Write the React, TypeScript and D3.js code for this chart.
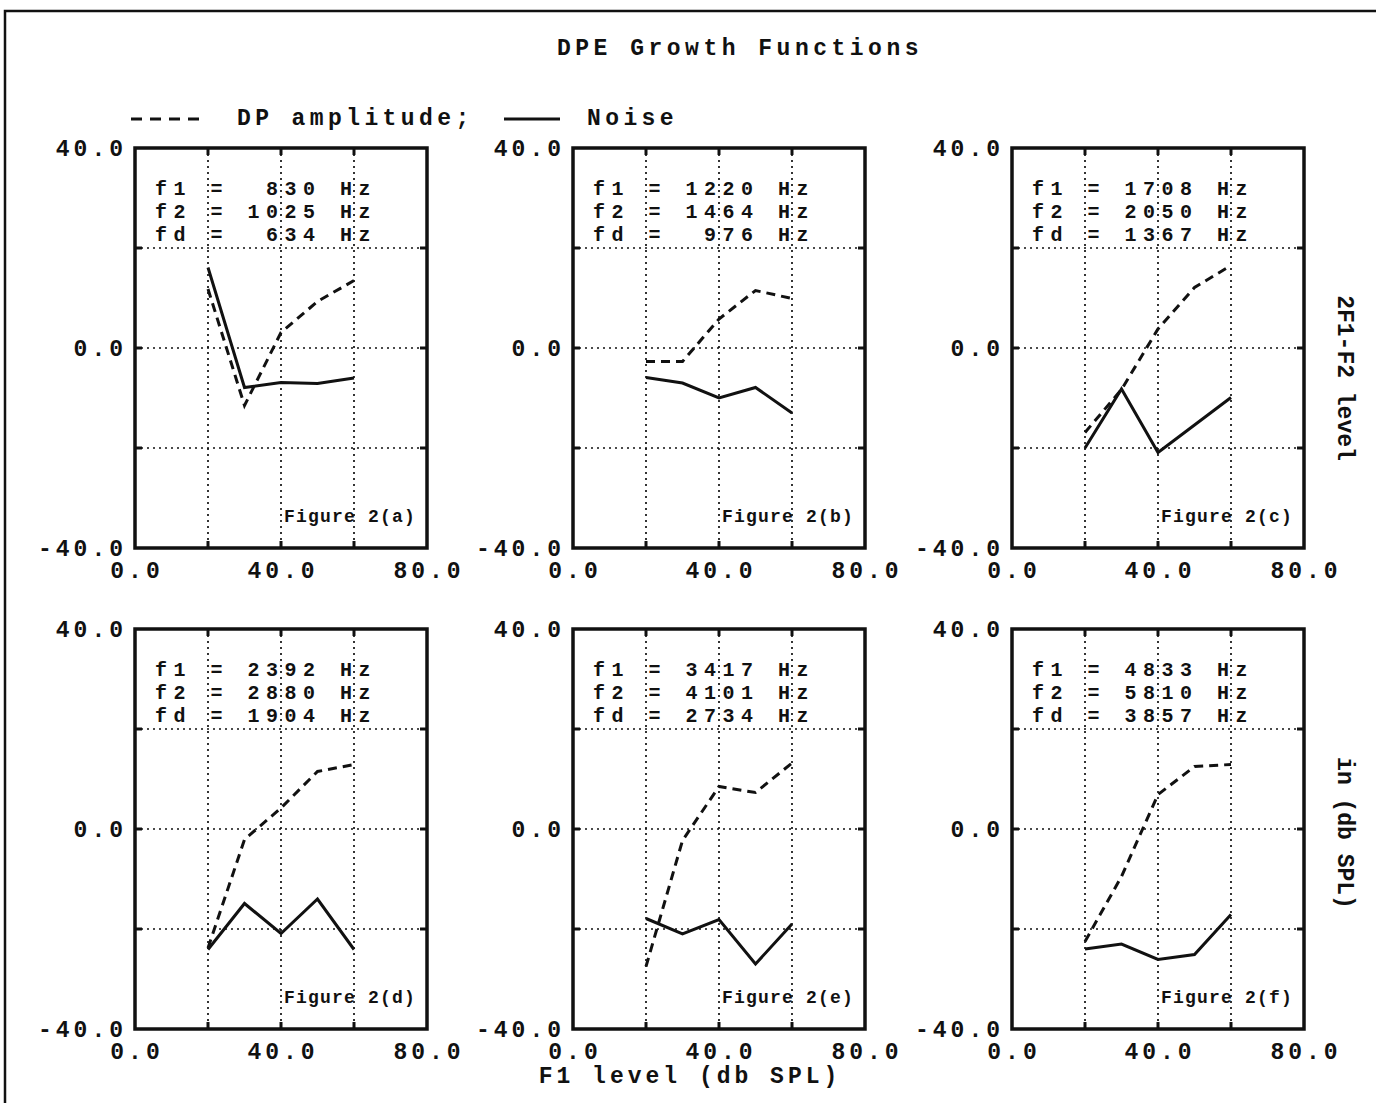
import React from "react";
import * as d3 from "d3";

// F1 level (dB SPL) sample points, shared by every panel
const levels = [20, 30, 40, 50, 60];

const panelNames = ["a", "b", "c", "d", "e", "f"];
const f1Hz = [830, 1220, 1708, 2392, 3417, 4833];
const f2Hz = [1025, 1464, 2050, 2880, 4101, 5810];
const fdHz = [634, 976, 1367, 1904, 2734, 3857];

// 2F1-F2 DP amplitude (dashed) per panel
const dpAmplitude = [
  [11.8, -11.5, 3.1, 9.3, 13.5],
  [-2.7, -2.7, 5.8, 11.5, 9.9],
  [-16.9, -8.3, 3.8, 12.1, 16.5],
  [-23.8, -2.1, 4.2, 11.5, 12.9],
  [-27.5, -2.3, 8.5, 7.3, 13.2],
  [-22.5, -9.5, 6.9, 12.5, 12.9],
];

// noise floor (solid) per panel
const noise = [
  [16.1, -7.9, -6.9, -7.1, -6.0],
  [-5.9, -7.0, -10.0, -7.9, -13.0],
  [-20.0, -8.2, -20.9, -15.4, -9.9],
  [-24.1, -14.9, -20.9, -14.0, -24.1],
  [-17.9, -21.0, -18.1, -27.0, -19.0],
  [-24.0, -23.0, -26.1, -25.1, -17.1],
];

const xTicks = [0, 40, 80];
const yTicks = [-40, 0, 40];
const gridX = [20, 40, 60];
const gridY = [-20, 0, 20];

const W = 1376;
const H = 1103;
const PW = 292;
const PH = 400;
const colLeft = [135, 573, 1012];
const rowTop = [148, 629];

const FONT = "'Liberation Mono', 'Courier New', monospace";
const FS = 23;

const x = d3.scaleLinear().domain([0, 80]).range([0, PW]);
const y = d3.scaleLinear().domain([-40, 40]).range([PH, 0]);

const line = d3
  .line<number>()
  .x((_, i) => x(levels[i]))
  .y((d) => y(d));

const pad = (n: number, w: number) => String(n).padStart(w, " ");

const Panel = ({ i }: { i: number }) => {
  const left = colLeft[i % 3];
  const top = rowTop[Math.floor(i / 3)];
  const info = [
    ["f1", f1Hz[i]],
    ["f2", f2Hz[i]],
    ["fd", fdHz[i]],
  ] as [string, number][];
  return (
    <g transform={`translate(${left},${top})`}>
      {/* dotted grid */}
      {gridX.map((v) => (
        <g key={"gx" + v}>
          <line x1={x(v)} x2={x(v)} y1={0} y2={PH} stroke="#111" strokeWidth={1.7} strokeDasharray="2,4" />
          <line x1={x(v)} x2={x(v)} y1={0} y2={7} stroke="#111" strokeWidth={3} />
          <line x1={x(v)} x2={x(v)} y1={PH - 7} y2={PH} stroke="#111" strokeWidth={3} />
        </g>
      ))}
      {gridY.map((v) => (
        <g key={"gy" + v}>
          <line x1={0} x2={PW} y1={y(v)} y2={y(v)} stroke="#111" strokeWidth={1.7} strokeDasharray="2,4" />
          <line x1={0} x2={7} y1={y(v)} y2={y(v)} stroke="#111" strokeWidth={3} />
          <line x1={PW - 7} x2={PW} y1={y(v)} y2={y(v)} stroke="#111" strokeWidth={3} />
        </g>
      ))}
      <rect x={0} y={0} width={PW} height={PH} fill="none" stroke="#111" strokeWidth={3.5} />

      {/* axes labels */}
      {yTicks.map((v) => (
        <text
          key={"yt" + v}
          x={-12 + 4}
          y={y(v)}
          dy="0.36em"
          textAnchor="end"
          fontFamily={FONT}
          fontWeight="bold"
          fontSize={FS}
          letterSpacing={4}
          fill="#111"
        >
          {v.toFixed(1)}
        </text>
      ))}
      {xTicks.map((v) => (
        <text
          key={"xt" + v}
          x={x(v) + 2}
          y={PH + 30}
          textAnchor="middle"
          fontFamily={FONT}
          fontWeight="bold"
          fontSize={FS}
          letterSpacing={4}
          fill="#111"
        >
          {v.toFixed(1)}
        </text>
      ))}

      {/* frequency info */}
      {info.map(([k, v], j) => (
        <text
          key={k}
          x={20}
          y={47 + j * 23}
          fontFamily={FONT}
          fontWeight="bold"
          fontSize={20}
          letterSpacing={6.5}
          fill="#111"
          style={{ whiteSpace: "pre" }}
        >
          {`${k} = ${pad(v, 4)} Hz`}
        </text>
      ))}

      <text
        x={PW - 11}
        y={PH - 26}
        textAnchor="end"
        fontFamily={FONT}
        fontWeight="bold"
        fontSize={18}
        letterSpacing={1.2}
        fill="#111"
      >
        {`Figure 2(${panelNames[i]})`}
      </text>

      {/* series */}
      <path d={line(dpAmplitude[i]) || ""} fill="none" stroke="#111" strokeWidth={3} strokeDasharray="9,6" />
      <path d={line(noise[i]) || ""} fill="none" stroke="#111" strokeWidth={3} />
    </g>
  );
};

export default function App() {
  return (
    <svg
      width={W}
      height={H}
      style={{ position: "absolute", left: 0, top: 0, background: "#fff" }}
    >
      <rect x={0} y={0} width={W} height={H} fill="#fff" />
      {/* outer frame (left and top edges only visible) */}
      <path d={`M5,${H} L5,11 L${W},11`} fill="none" stroke="#111" strokeWidth={2.5} />

      <text
        x={740}
        y={55}
        textAnchor="middle"
        fontFamily={FONT}
        fontWeight="bold"
        fontSize={FS}
        letterSpacing={4.5}
        fill="#111"
      >
        DPE Growth Functions
      </text>

      {/* legend */}
      <line x1={131} x2={205} y1={119} y2={119} stroke="#111" strokeWidth={3} strokeDasharray="11,8" />
      <text x={237} y={125} fontFamily={FONT} fontWeight="bold" fontSize={FS} letterSpacing={4.4} fill="#111">
        DP amplitude;
      </text>
      <line x1={504} x2={560} y1={119} y2={119} stroke="#111" strokeWidth={3} />
      <text x={587} y={125} fontFamily={FONT} fontWeight="bold" fontSize={FS} letterSpacing={4.4} fill="#111">
        Noise
      </text>

      {panelNames.map((_, i) => (
        <Panel key={i} i={i} />
      ))}

      {/* axis titles */}
      <text
        x={690}
        y={1083}
        textAnchor="middle"
        fontFamily={FONT}
        fontWeight="bold"
        fontSize={FS}
        letterSpacing={4}
        fill="#111"
      >
        F1 level (db SPL)
      </text>
      <text
        transform="translate(1338,378) rotate(90)"
        textAnchor="middle"
        fontFamily={FONT}
        fontWeight="bold"
        fontSize={FS}
        letterSpacing={0}
        fill="#111"
      >
        2F1-F2 level
      </text>
      <text
        transform="translate(1338,833) rotate(90)"
        textAnchor="middle"
        fontFamily={FONT}
        fontWeight="bold"
        fontSize={FS}
        letterSpacing={0}
        fill="#111"
      >
        in (db SPL)
      </text>
    </svg>
  );
}
